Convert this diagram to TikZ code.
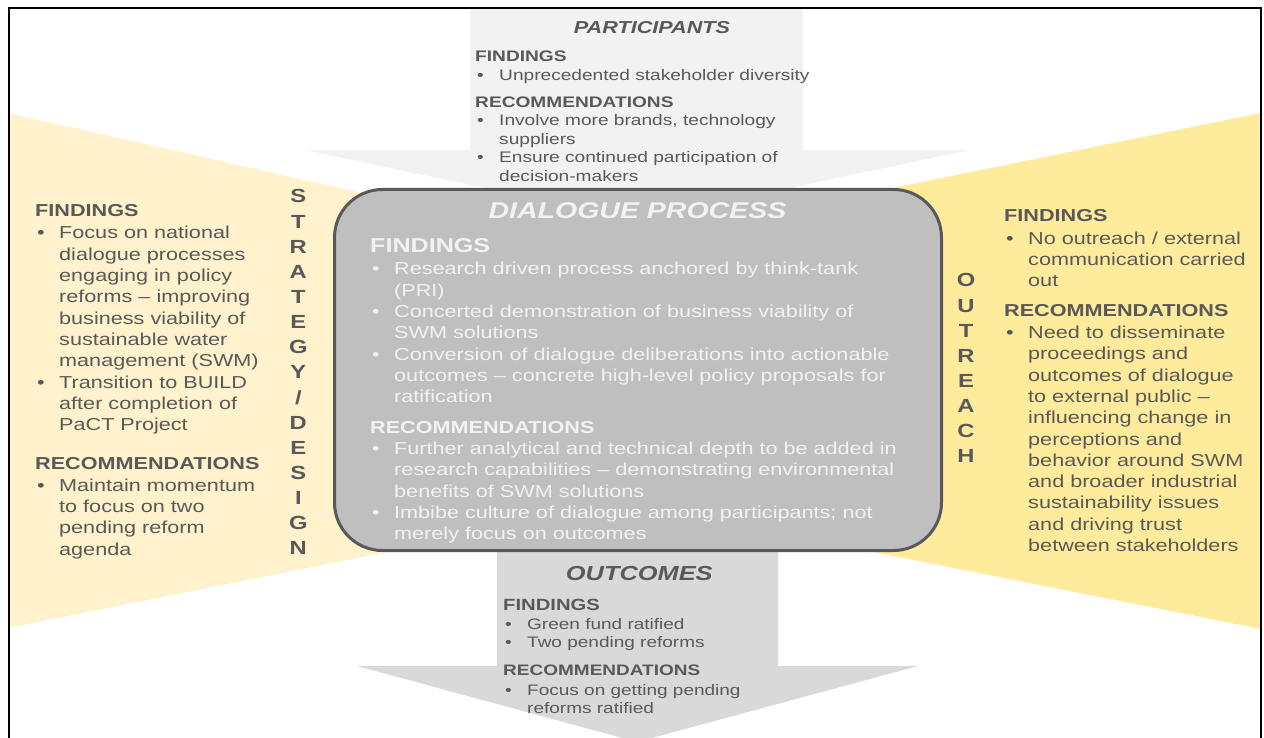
\documentclass[tikz,border=0pt]{standalone}
\usepackage{fontspec}
\setmainfont{Liberation Sans}[FakeStretch=1.25]

\definecolor{inkgray}{HTML}{595959}
\definecolor{boxgray}{HTML}{BFBFBF}
\definecolor{paleink}{HTML}{F2F2F2}
\definecolor{topgray}{HTML}{F2F2F2}
\definecolor{botgray}{HTML}{D9D9D9}
\definecolor{paleyellow}{HTML}{FFF2CC}
\definecolor{gold}{HTML}{FFEB9C}

\newcommand{\bitem}{\makebox[24pt][l]{\hspace{2pt}\textbullet}}
\newcommand{\bcont}{\makebox[24pt]{}}
\newcommand{\rows}[1]{\begin{tabular}[t]{@{}l@{}}#1\end{tabular}}
\newcommand{\stack}[1]{\begin{tabular}[t]{@{}c@{}}#1\end{tabular}}

\begin{document}
\begin{tikzpicture}
  [x=1pt, y=-1pt,
   title/.style={anchor=base, inner sep=0pt},
   list/.style={anchor=base west, inner sep=0pt, text=inkgray},
   spine/.style={anchor=base, inner sep=0pt, text=inkgray,
                 font=\fontsize{19}{25.14}\selectfont\bfseries},
   procbox/.style={draw=inkgray, line width=3pt, fill=boxgray,
                   rounded corners=48pt, inner sep=0pt,
                   minimum width=607pt, minimum height=361pt}]

  \useasboundingbox (0,0) rectangle (1264,738);
  \clip (0,0) rectangle (1264,738);

  % Side arrows
  \fill[paleyellow] (8,113) -- (637,255) -- (637,502) -- (8,628) -- cycle;
  \fill[gold] (1261,113) -- (637,240) -- (637,505) -- (1261,629) -- cycle;

  % Top and bottom arrows
  \fill[topgray] (470,8) -- (803,8) -- (803,150) -- (970,150) -- (637,220)
    -- (305,150) -- (470,150) -- cycle;
  \fill[botgray] (497,540) -- (778,540) -- (778,666) -- (918,666) -- (637,742)
    -- (357,666) -- (497,666) -- cycle;

  % Central box
  \node (dialogue) at (638,370) [procbox] {};

  % Participants
  \node (parttitle) at (652,33.3) [title, text=inkgray,
    font=\fontsize{17.3}{20}\selectfont\bfseries\itshape] {PARTICIPANTS};
  \node (parttext) at (475,61.7) [list, font=\fontsize{15.3}{18.5}\selectfont]
    {\rows{\textbf{FINDINGS}\\
     \bitem Unprecedented stakeholder diversity\\[8.6pt]
     \textbf{RECOMMENDATIONS}\\
     \bitem Involve more brands, technology\\
     \bcont suppliers\\
     \bitem Ensure continued participation of\\
     \bcont decision-makers}};

  % Dialogue process
  \node (proctitle) at (637.5,218.5) [title, text=paleink,
    font=\fontsize{22.8}{26}\selectfont\bfseries\itshape] {DIALOGUE PROCESS};
  \node (proctext) at (370,252.5) [list, text=paleink,
    font=\fontsize{17.3}{21.3}\selectfont]
    {\rows{{\fontsize{20.1}{21.3}\selectfont\bfseries FINDINGS}\\[1.2pt]
     \bitem Research driven process anchored by think-tank\\
     \bcont (PRI)\\
     \bitem Concerted demonstration of business viability of\\
     \bcont SWM solutions\\
     \bitem Conversion of dialogue deliberations into actionable\\
     \bcont outcomes – concrete high-level policy proposals for\\
     \bcont ratification\\[9.2pt]
     \textbf{RECOMMENDATIONS}\\
     \bitem Further analytical and technical depth to be added in\\
     \bcont research capabilities – demonstrating environmental\\
     \bcont benefits of SWM solutions\\
     \bitem Imbibe culture of dialogue among participants; not\\
     \bcont merely focus on outcomes}};

  % Strategy / design
  \node (strattext) at (35,217) [list, font=\fontsize{17.3}{21.3}\selectfont]
    {\rows{\textbf{FINDINGS}\\[0.7pt]
     \bitem Focus on national\\
     \bcont dialogue processes\\
     \bcont engaging in policy\\
     \bcont reforms – improving\\
     \bcont business viability of\\
     \bcont sustainable water\\
     \bcont management (SWM)\\
     \bitem Transition to BUILD\\
     \bcont after completion of\\
     \bcont PaCT Project\\[18pt]
     \textbf{RECOMMENDATIONS}\\
     \bitem Maintain momentum\\
     \bcont to focus on two\\
     \bcont pending reform\\
     \bcont agenda}};
  \node (strategy) at (298.3,203) [spine]
    {\stack{S\\T\\R\\A\\T\\E\\G\\Y\\/\\D\\E\\S\\I\\G\\N}};

  % Outreach
  \node (outreach) at (966,287) [spine] {\stack{O\\U\\T\\R\\E\\A\\C\\H}};
  \node (outtext) at (1004,221.7) [list, font=\fontsize{17.3}{21.3}\selectfont]
    {\rows{\textbf{FINDINGS}\\[1pt]
     \bitem No outreach / external\\
     \bcont communication carried\\
     \bcont out\\[8.4pt]
     \textbf{RECOMMENDATIONS}\\[1pt]
     \bitem Need to disseminate\\
     \bcont proceedings and\\
     \bcont outcomes of dialogue\\
     \bcont to external public –\\
     \bcont influencing change in\\
     \bcont perceptions and\\
     \bcont behavior around SWM\\
     \bcont and broader industrial\\
     \bcont sustainability issues\\
     \bcont and driving trust\\
     \bcont between stakeholders}};

  % Outcomes
  \node (outctitle) at (639.3,580) [title, text=inkgray,
    font=\fontsize{20.3}{24}\selectfont\bfseries\itshape] {OUTCOMES};
  \node (outctext) at (503,610.7) [list, font=\fontsize{15.2}{18.3}\selectfont]
    {\rows{{\fontsize{16.2}{18.3}\selectfont\bfseries FINDINGS}\\
     \bitem Green fund ratified\\
     \bitem Two pending reforms\\[9.4pt]
     \textbf{RECOMMENDATIONS}\\[1.7pt]
     \bitem Focus on getting pending\\
     \bcont reforms ratified}};

  % Frame
  \draw[line width=2pt] (8.5,745) -- (8.5,8.5) -- (1260.5,8.5) -- (1260.5,745);
\end{tikzpicture}
\end{document}
